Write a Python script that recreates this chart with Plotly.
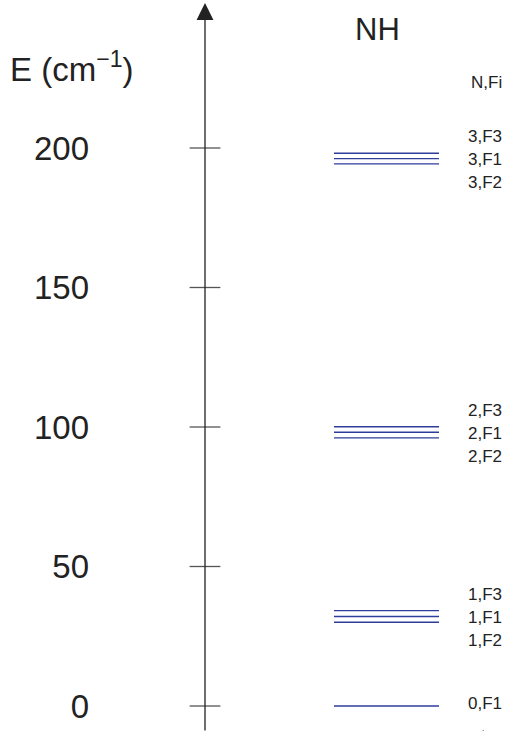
import plotly.graph_objects as go

# ---- data ----
N_values = [0, 1, 2, 3]
E_F1 = [0.0, 32.1, 98.1, 196.2]
E_F2 = [None, 30.0, 96.1, 194.3]
E_F3 = [None, 34.2, 100.1, 198.1]
tick_values = [0, 50, 100, 150, 200]
tick_labels = ["0", "50", "100", "150", "200"]

# ---- layout constants (pixels) ----
W, H = 508, 732
AX_X = 205                 # x of energy axis
PX_PER_UNIT = 2.79
Y0_PX = 706                # pixel row of E = 0
y_top = (Y0_PX - 0) / PX_PER_UNIT
y_bot = (Y0_PX - H) / PX_PER_UNIT
LEVEL_X0, LEVEL_X1 = 334, 439
LABEL_X = 466
LINE_COLOR = "#2e3d9c"
FONT = "Liberation Sans, Arial, Helvetica, sans-serif"


def px2e(dpx):
    return dpx / PX_PER_UNIT


fig = go.Figure()

# energy levels
xs, ys = [], []
for series in (E_F1, E_F2, E_F3):
    for e in series:
        if e is None:
            continue
        xs += [LEVEL_X0, LEVEL_X1, None]
        ys += [e, e, None]
fig.add_trace(go.Scatter(x=xs, y=ys, mode="lines",
                         line=dict(color=LINE_COLOR, width=1.4),
                         hoverinfo="skip", showlegend=False))

# crossing tick marks on the axis
fig.add_trace(go.Scatter(x=[AX_X] * len(tick_values), y=tick_values, mode="markers",
                         marker=dict(symbol="line-ew", size=22,
                                     line=dict(color="#555555", width=1.3)),
                         cliponaxis=False, hoverinfo="skip", showlegend=False))

annotations = []
# axis with arrow
annotations.append(dict(x=AX_X, y=px2e(Y0_PX - 3), ax=AX_X, ay=y_bot,
                        xref="x", yref="y", axref="x", ayref="y",
                        text="", showarrow=True, arrowhead=2, arrowsize=2.6,
                        arrowwidth=1.3, arrowcolor="#222222"))

# level labels
for n, f1, f2, f3 in zip(N_values, E_F1, E_F2, E_F3):
    if f2 is None:
        annotations.append(dict(x=LABEL_X, y=f1 + px2e(3), text=f"{n},F1"))
    else:
        annotations.append(dict(x=LABEL_X, y=f1 + px2e(22), text=f"{n},F3"))
        annotations.append(dict(x=LABEL_X, y=f1 - px2e(1), text=f"{n},F1"))
        annotations.append(dict(x=LABEL_X, y=f1 - px2e(24), text=f"{n},F2"))
for a in annotations[1:]:
    a.update(xref="x", yref="y", xanchor="left", yanchor="middle", showarrow=False,
             font=dict(family=FONT, size=17, color="#222222"))

annotations.append(dict(x=LABEL_X + 3, y=px2e(Y0_PX - 82), xref="x", yref="y",
                        text="N,Fi", xanchor="left", yanchor="middle", showarrow=False,
                        font=dict(family=FONT, size=17, color="#222222")))
annotations.append(dict(x=377, y=px2e(Y0_PX - 29), xref="x", yref="y",
                        text="NH", xanchor="center", yanchor="middle", showarrow=False,
                        font=dict(family=FONT, size=31, color="#222222")))
annotations.append(dict(x=(72 - AX_X) / (W - AX_X), y=(H - 67) / H, xref="paper", yref="paper",
                        text="E (cm<sup>\u22121</sup>)", xanchor="center", yanchor="middle",
                        showarrow=False,
                        font=dict(family=FONT, size=33, color="#222222")))
annotations.append(dict(x=483, y=px2e(Y0_PX - 728), xref="x", yref="y",
                        text=".", xanchor="center", yanchor="middle", showarrow=False,
                        font=dict(family=FONT, size=9, color="#555555")))

fig.update_layout(
    width=W, height=H,
    margin=dict(l=AX_X, r=0, t=0, b=0, pad=0),
    paper_bgcolor="white", plot_bgcolor="white",
    xaxis=dict(range=[AX_X, W], visible=False, fixedrange=True),
    yaxis=dict(range=[y_bot, y_top], showgrid=False, zeroline=False, showline=False,
               ticks="", tickvals=tick_values, ticktext=tick_labels,
               ticklabelstandoff=AX_X - 88 - 2,
               tickfont=dict(family=FONT, size=33, color="#222222"),
               automargin=False, fixedrange=True),
    annotations=annotations,
    showlegend=False,
)

fig.write_html("out.html", config={"displayModeBar": False},
               post_script="document.body.style.margin='0';document.body.style.overflow='hidden';")
